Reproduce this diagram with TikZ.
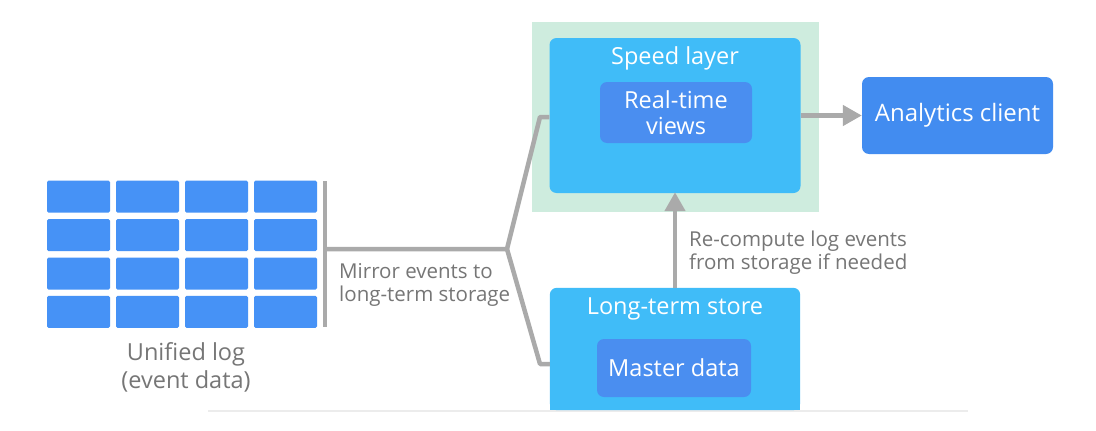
\documentclass[tikz,border=0pt]{standalone}
\usepackage{fontspec}
\setmainfont{Open Sans}
\usetikzlibrary{arrows.meta}
\definecolor{cellblue}{RGB}{70,146,246}
\definecolor{layerblue}{RGB}{64,188,248}
\definecolor{innerblue}{RGB}{74,142,240}
\definecolor{clientblue}{RGB}{66,140,240}
\definecolor{mint}{RGB}{206,236,222}
\definecolor{linegray}{RGB}{170,170,170}
\definecolor{textgray}{RGB}{118,118,118}
\definecolor{rulegray}{RGB}{236,236,236}
\begin{document}
\begin{tikzpicture}[x=1pt,y=-1pt,
  cell/.style={fill=cellblue, minimum width=63pt, minimum height=32pt, rounded corners=1.5pt, inner sep=0pt},
  layer/.style={fill=layerblue, rounded corners=7pt, inner sep=0pt},
  innerbox/.style={fill=innerblue, rounded corners=7pt, inner sep=0pt, text=white, align=center, font=\fontsize{23.5}{26}\selectfont},
  boxlabel/.style={text=white, font=\fontsize{23.5}{26}\selectfont, inner sep=0pt},
  graytext/.style={text=textgray, align=left, font=\fontsize{20.5}{23}\selectfont, inner sep=0pt},
  conn/.style={draw=linegray, line width=4.5pt},
  arr/.style={conn, -{Triangle[length=19pt,width=20pt]}}
]
\useasboundingbox[fill=white] (0,0) rectangle (1096,431);

% unified log grid
\foreach \c/\x in {1/78.5,2/147.5,3/216.5,4/285.5}{
  \foreach \r/\y in {1/196.7,2/235,3/273.5,4/311.9}{
    \node[cell] (c\r\c) at (\x,\y) {};
  }
}
\node[fill=linegray, minimum width=4.5pt, minimum height=146pt, inner sep=0pt] (bar) at (325,254) {};
\node[text=textgray, align=center, font=\fontsize{23.5}{28}\selectfont, inner sep=0pt, anchor=north] (loglabel) at (186,342) {Unified log\\(event data)};

% bottom rule
\coordinate (ruleL) at (208,411);
\coordinate (ruleR) at (968,411);
\draw[rulegray, line width=1.5pt] (ruleL) -- (ruleR);

% speed layer
\node[fill=mint, minimum width=287pt, minimum height=190pt, inner sep=0pt] (speedbg) at (675.5,117) {};
\node[layer, minimum width=251pt, minimum height=155pt] (speed) at (675,115.5) {};
\node[boxlabel] (speedlabel) at (675,58) {Speed layer};
\node[innerbox, minimum width=152pt, minimum height=61pt] (rtv) at (676,112.5) {Real-time\\views};

% long-term store (flat bottom at the rule)
\node[minimum width=250pt, minimum height=122pt, inner sep=0pt] (lts) at (675,349) {};
\fill[layerblue, rounded corners=7pt] (lts.north west) rectangle (lts.south east);
\fill[layerblue] ([yshift=12pt]lts.west) rectangle (lts.south east);
\node[boxlabel] (ltslabel) at (675,309) {Long-term store};
\node[innerbox, minimum width=154pt, minimum height=58pt] (master) at (674,368) {Master data};

% analytics client
\node[fill=clientblue, rounded corners=7pt, minimum width=191pt, minimum height=77pt, inner sep=0pt, text=white, font=\fontsize{24}{28}\selectfont] (client) at (957.5,115.5) {Analytics client};

% connectors
\coordinate (junc) at (507,249);
\coordinate (upbend) at (540,117);
\coordinate (lowbend) at (540,364);
\draw[conn, line join=round] (bar.center |- junc) -- (junc) -- (upbend) -- (speed.west |- upbend);
\draw[conn, line join=round] (junc) -- (lowbend) -- (lts.west |- lowbend);
\draw[arr] (speed.east |- client.west) -- (client.west);
\draw[arr] (lts.north -| speed.south) -- ([yshift=1pt]speed.south);

% labels
\node[graytext, anchor=north west] (mirror) at (339,263) {Mirror events to\\long-term storage};
\node[graytext, anchor=north west] (recompute) at (689,231) {Re-compute log events\\from storage if needed};
\end{tikzpicture}
\end{document}
